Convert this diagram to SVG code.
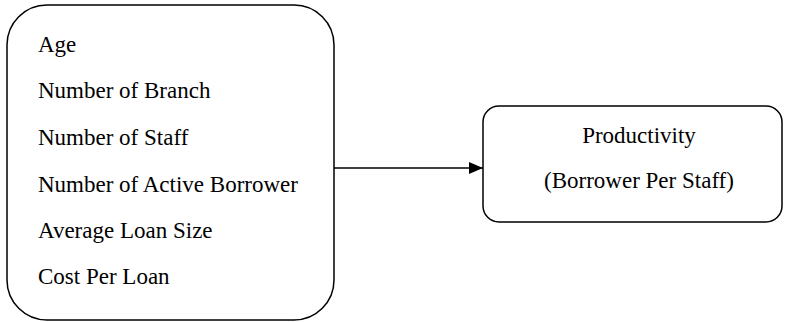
<svg xmlns="http://www.w3.org/2000/svg" width="787" height="322" viewBox="0 0 787 322">
<style>
.box{fill:#fff;stroke:#000;stroke-width:1.5}
.t{font-family:"Liberation Serif","Times New Roman",serif;font-size:23px;fill:#000}
.c{text-anchor:middle}
</style>
<defs>
<marker id="ah" markerWidth="14" markerHeight="12" refX="14" refY="6" orient="auto" markerUnits="userSpaceOnUse">
<path d="M0,0 L14,6 L0,12 Z" fill="#000"/>
</marker>
</defs>
<rect width="787" height="322" fill="#fff"/>
<g id="inputs">
<rect class="box" x="7" y="5" width="327" height="315" rx="40" ry="40"/>
<text class="t" x="38" y="52">Age</text>
<text class="t" x="38" y="98">Number of Branch</text>
<text class="t" x="38" y="145">Number of Staff</text>
<text class="t" x="38" y="191.5">Number of Active Borrower</text>
<text class="t" x="38" y="237.5">Average Loan Size</text>
<text class="t" x="38" y="284">Cost Per Loan</text>
</g>
<g id="productivity">
<rect class="box" x="483" y="106" width="299" height="116" rx="16" ry="16"/>
<text class="t c" x="639" y="143">Productivity</text>
<text class="t c" x="639" y="187.5">(Borrower Per Staff)</text>
</g>
<g id="connectors">
<line x1="334" y1="168" x2="483" y2="168" stroke="#000" stroke-width="1.5" marker-end="url(#ah)"/>
</g>
</svg>
